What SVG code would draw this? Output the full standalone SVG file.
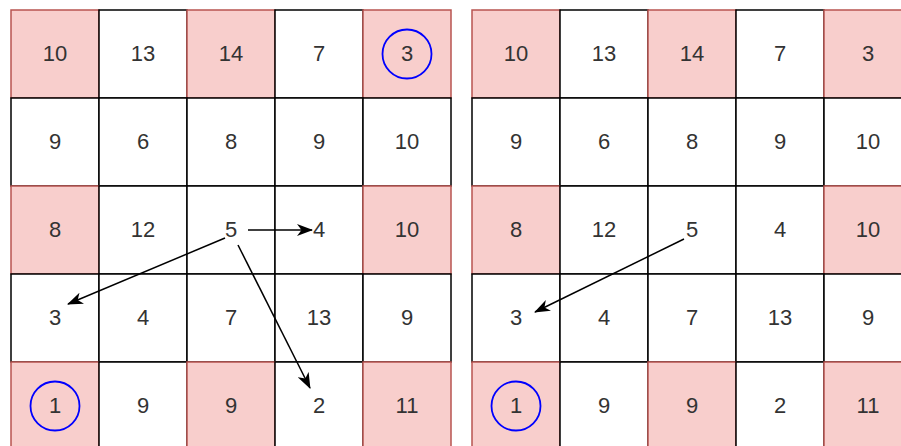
<svg xmlns="http://www.w3.org/2000/svg" width="901" height="446" viewBox="0 0 901 446">
<style>
.w{fill:#ffffff;stroke:#000000;stroke-width:1.5}
.p{fill:#f8cecc;stroke:#b85450;stroke-width:1.5}
text{font-family:"Liberation Sans",Arial,sans-serif;font-size:22px;fill:#333333;text-anchor:middle}
.c{fill:none;stroke:#0000ff;stroke-width:1.8}
.a{fill:none;stroke:#000000;stroke-width:1.5;marker-end:url(#ah)}
</style>
<defs>
<marker id="ah" markerUnits="userSpaceOnUse" viewBox="0 0 16 12" markerWidth="16" markerHeight="12" refX="15" refY="6" orient="auto">
<path d="M0,0 L16,6 L0,12 L4.5,6 Z" fill="#000000"/>
</marker>
</defs>
<rect width="901" height="446" fill="#ffffff"/>
<g id="gridA">
<g id="a00"><rect class="p" x="11" y="10" width="88" height="88"/><text x="55" y="61">10</text></g>
<g id="a01"><rect class="w" x="99" y="10" width="88" height="88"/><text x="143" y="61">13</text></g>
<g id="a02"><rect class="p" x="187" y="10" width="88" height="88"/><text x="231" y="61">14</text></g>
<g id="a03"><rect class="w" x="275" y="10" width="88" height="88"/><text x="319" y="61">7</text></g>
<g id="a04"><rect class="p" x="363" y="10" width="88" height="88"/><text x="407" y="61">3</text><circle class="c" cx="407" cy="54" r="24.5"/></g>
<g id="a10"><rect class="w" x="11" y="98" width="88" height="88"/><text x="55" y="149">9</text></g>
<g id="a11"><rect class="w" x="99" y="98" width="88" height="88"/><text x="143" y="149">6</text></g>
<g id="a12"><rect class="w" x="187" y="98" width="88" height="88"/><text x="231" y="149">8</text></g>
<g id="a13"><rect class="w" x="275" y="98" width="88" height="88"/><text x="319" y="149">9</text></g>
<g id="a14"><rect class="w" x="363" y="98" width="88" height="88"/><text x="407" y="149">10</text></g>
<g id="a20"><rect class="p" x="11" y="186" width="88" height="88"/><text x="55" y="237">8</text></g>
<g id="a21"><rect class="w" x="99" y="186" width="88" height="88"/><text x="143" y="237">12</text></g>
<g id="a22"><rect class="w" x="187" y="186" width="88" height="88"/><text x="231" y="237">5</text></g>
<g id="a23"><rect class="w" x="275" y="186" width="88" height="88"/><text x="319" y="237">4</text></g>
<g id="a24"><rect class="p" x="363" y="186" width="88" height="88"/><text x="407" y="237">10</text></g>
<g id="a30"><rect class="w" x="11" y="274" width="88" height="88"/><text x="55" y="325">3</text></g>
<g id="a31"><rect class="w" x="99" y="274" width="88" height="88"/><text x="143" y="325">4</text></g>
<g id="a32"><rect class="w" x="187" y="274" width="88" height="88"/><text x="231" y="325">7</text></g>
<g id="a33"><rect class="w" x="275" y="274" width="88" height="88"/><text x="319" y="325">13</text></g>
<g id="a34"><rect class="w" x="363" y="274" width="88" height="88"/><text x="407" y="325">9</text></g>
<g id="a40"><rect class="p" x="11" y="362" width="88" height="88"/><text x="55" y="413">1</text><circle class="c" cx="55" cy="406" r="24.5"/></g>
<g id="a41"><rect class="w" x="99" y="362" width="88" height="88"/><text x="143" y="413">9</text></g>
<g id="a42"><rect class="p" x="187" y="362" width="88" height="88"/><text x="231" y="413">9</text></g>
<g id="a43"><rect class="w" x="275" y="362" width="88" height="88"/><text x="319" y="413">2</text></g>
<g id="a44"><rect class="p" x="363" y="362" width="88" height="88"/><text x="407" y="413">11</text></g>
</g>
<g id="gridB">
<g id="b00"><rect class="p" x="472" y="10" width="88" height="88"/><text x="516" y="61">10</text></g>
<g id="b01"><rect class="w" x="560" y="10" width="88" height="88"/><text x="604" y="61">13</text></g>
<g id="b02"><rect class="p" x="648" y="10" width="88" height="88"/><text x="692" y="61">14</text></g>
<g id="b03"><rect class="w" x="736" y="10" width="88" height="88"/><text x="780" y="61">7</text></g>
<g id="b04"><rect class="p" x="824" y="10" width="88" height="88"/><text x="868" y="61">3</text></g>
<g id="b10"><rect class="w" x="472" y="98" width="88" height="88"/><text x="516" y="149">9</text></g>
<g id="b11"><rect class="w" x="560" y="98" width="88" height="88"/><text x="604" y="149">6</text></g>
<g id="b12"><rect class="w" x="648" y="98" width="88" height="88"/><text x="692" y="149">8</text></g>
<g id="b13"><rect class="w" x="736" y="98" width="88" height="88"/><text x="780" y="149">9</text></g>
<g id="b14"><rect class="w" x="824" y="98" width="88" height="88"/><text x="868" y="149">10</text></g>
<g id="b20"><rect class="p" x="472" y="186" width="88" height="88"/><text x="516" y="237">8</text></g>
<g id="b21"><rect class="w" x="560" y="186" width="88" height="88"/><text x="604" y="237">12</text></g>
<g id="b22"><rect class="w" x="648" y="186" width="88" height="88"/><text x="692" y="237">5</text></g>
<g id="b23"><rect class="w" x="736" y="186" width="88" height="88"/><text x="780" y="237">4</text></g>
<g id="b24"><rect class="p" x="824" y="186" width="88" height="88"/><text x="868" y="237">10</text></g>
<g id="b30"><rect class="w" x="472" y="274" width="88" height="88"/><text x="516" y="325">3</text></g>
<g id="b31"><rect class="w" x="560" y="274" width="88" height="88"/><text x="604" y="325">4</text></g>
<g id="b32"><rect class="w" x="648" y="274" width="88" height="88"/><text x="692" y="325">7</text></g>
<g id="b33"><rect class="w" x="736" y="274" width="88" height="88"/><text x="780" y="325">13</text></g>
<g id="b34"><rect class="w" x="824" y="274" width="88" height="88"/><text x="868" y="325">9</text></g>
<g id="b40"><rect class="p" x="472" y="362" width="88" height="88"/><text x="516" y="413">1</text><circle class="c" cx="516" cy="406" r="24.5"/></g>
<g id="b41"><rect class="w" x="560" y="362" width="88" height="88"/><text x="604" y="413">9</text></g>
<g id="b42"><rect class="p" x="648" y="362" width="88" height="88"/><text x="692" y="413">9</text></g>
<g id="b43"><rect class="w" x="736" y="362" width="88" height="88"/><text x="780" y="413">2</text></g>
<g id="b44"><rect class="p" x="824" y="362" width="88" height="88"/><text x="868" y="413">11</text></g>
</g>
<g id="connectors">
<line class="a" x1="248" y1="230" x2="312" y2="230"/>
<line class="a" x1="238" y1="245" x2="310" y2="388"/>
<line class="a" x1="225" y1="238" x2="68" y2="304"/>
<line class="a" x1="684" y1="239" x2="535" y2="312"/>
</g>
</svg>
